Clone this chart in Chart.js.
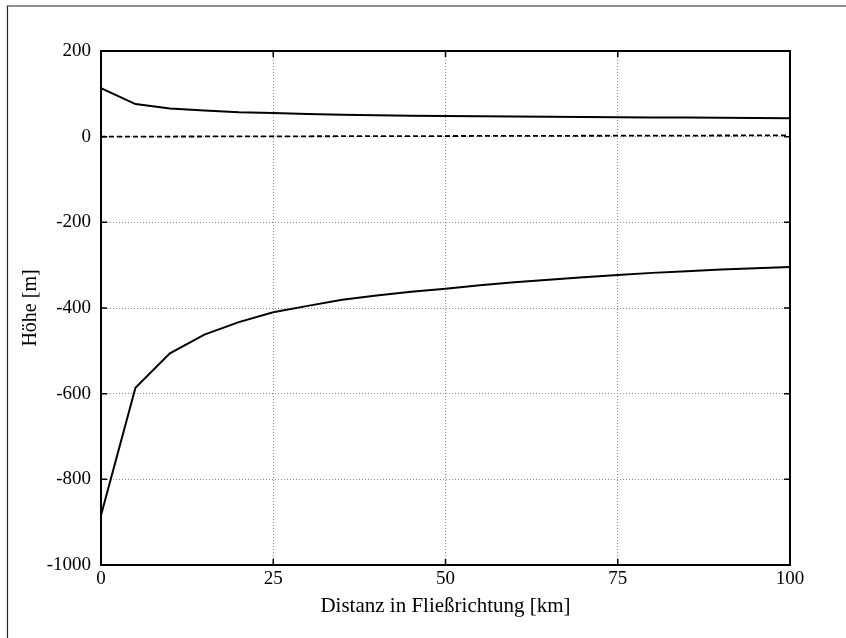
<!DOCTYPE html>
<html>
<head>
<meta charset="utf-8">
<script src="https://cdn.jsdelivr.net/npm/chart.js@4"></script>
<style>
  html, body { margin: 0; padding: 0; background: #fff; }
  #wrap { width: 846px; height: 638px; }
</style>
</head>
<body>
<div id="wrap"><canvas id="chart" width="846" height="638"></canvas></div>
<script>
// Distance along the flow direction [km]
const distanceKm = [0, 5, 10, 15, 20, 25, 30, 35, 40, 45, 50, 55, 60, 65, 70, 75, 80, 85, 90, 95, 100];
// Upper boundary [m]
const upperHeight = [113, 76, 66, 61, 57, 55, 53, 51, 50, 49, 48, 47.5, 47, 46.5, 46, 45.5, 45, 44.5, 44, 43.5, 43];
// Lower boundary [m]
const lowerHeight = [-884, -586, -506, -462, -433, -410, -395, -381, -371, -362, -355, -347, -340, -334, -328, -323, -318, -314, -310, -307, -304];
// Reference level (dashed)
const refKm = [0, 100];
const refHeight = [0, 3];

const xTicks = [0, 25, 50, 75, 100];
const yTicks = [200, 0, -200, -400, -600, -800, -1000];

const toPoints = (xs, ys) => xs.map((x, i) => ({ x: x, y: ys[i] }));

const serif = '"Liberation Serif", "DejaVu Serif", serif';

// frame, inward ticks and the outer page border
const framePlugin = {
    id: 'frame',
    beforeDraw(chart) {
        const ctx = chart.ctx;
        ctx.save();
        ctx.strokeStyle = '#222';
        ctx.lineWidth = 1.2;
        ctx.beginPath();
        ctx.moveTo(7.5, chart.height);
        ctx.lineTo(7.5, 6);
        ctx.lineTo(chart.width, 6);
        ctx.stroke();
        ctx.restore();
    },
    afterDraw(chart) {
        const ctx = chart.ctx;
        const a = chart.chartArea;
        const xs = chart.scales.x;
        const ys = chart.scales.y;
        const len = 6;
        ctx.save();
        ctx.strokeStyle = '#000';
        ctx.lineWidth = 1.5;
        ctx.beginPath();
        xTicks.forEach(v => {
            const px = xs.getPixelForValue(v);
            ctx.moveTo(px, a.bottom); ctx.lineTo(px, a.bottom - len);
            ctx.moveTo(px, a.top); ctx.lineTo(px, a.top + len);
        });
        yTicks.forEach(v => {
            const py = ys.getPixelForValue(v);
            ctx.moveTo(a.left, py); ctx.lineTo(a.left + len, py);
            ctx.moveTo(a.right, py); ctx.lineTo(a.right - len, py);
        });
        ctx.stroke();
        ctx.lineWidth = 2;
        ctx.strokeRect(a.left, a.top, a.right - a.left, a.bottom - a.top);
        ctx.restore();
    }
};

new Chart(document.getElementById('chart'), {
    type: 'line',
    data: {
        datasets: [
            {
                data: toPoints(distanceKm, upperHeight),
                borderColor: '#000',
                borderWidth: 2,
                pointRadius: 0,
                tension: 0
            },
            {
                data: toPoints(distanceKm, lowerHeight),
                borderColor: '#000',
                borderWidth: 2,
                pointRadius: 0,
                tension: 0
            },
            {
                data: toPoints(refKm, refHeight),
                borderColor: '#000',
                borderWidth: 1.8,
                borderDash: [5, 3],
                pointRadius: 0,
                tension: 0
            }
        ]
    },
    options: {
        responsive: false,
        animation: false,
        events: [],
        layout: { padding: { left: 0, right: 56, top: 51, bottom: 0 } },
        plugins: {
            legend: { display: false },
            tooltip: { enabled: false }
        },
        scales: {
            x: {
                type: 'linear',
                min: 0,
                max: 100,
                afterFit(scale) { scale.height = 73; },
                afterBuildTicks(scale) { scale.ticks = xTicks.map(v => ({ value: v })); },
                ticks: {
                    color: '#000',
                    padding: 3,
                    maxRotation: 0,
                    font: { family: serif, size: 19 },
                    callback: v => String(v)
                },
                grid: { color: '#8a8a8a', lineWidth: 1, drawTicks: false },
                border: { display: false, dash: [1, 2] },
                title: {
                    display: true,
                    text: 'Distanz in Fließrichtung [km]',
                    color: '#000',
                    font: { family: serif, size: 21 },
                    padding: { top: 0, bottom: 19 }
                }
            },
            y: {
                type: 'linear',
                min: -1000,
                max: 200,
                afterFit(scale) { scale.width = 101; },
                afterBuildTicks(scale) { scale.ticks = yTicks.map(v => ({ value: v })); },
                ticks: {
                    color: '#000',
                    padding: 10,
                    font: { family: serif, size: 19 },
                    callback: v => String(v)
                },
                grid: { color: '#8a8a8a', lineWidth: 1, drawTicks: false },
                border: { display: false, dash: [1, 2] },
                title: {
                    display: true,
                    text: 'Höhe [m]',
                    color: '#000',
                    font: { family: serif, size: 20 },
                    padding: { top: 19, bottom: 0 }
                }
            }
        }
    },
    plugins: [framePlugin]
});
</script>
</body>
</html>
